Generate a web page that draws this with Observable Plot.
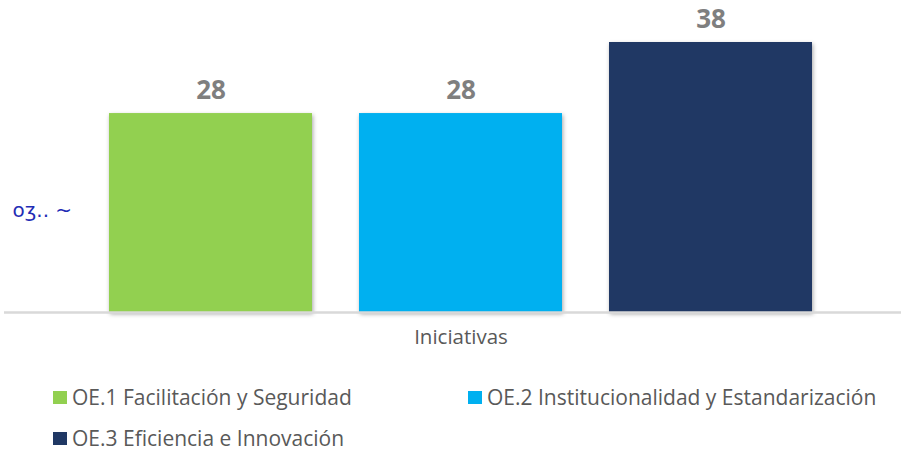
<!DOCTYPE html>
<html>
<head>
<meta charset="utf-8">
<script src="https://cdn.jsdelivr.net/npm/d3@7"></script>
<script src="https://cdn.jsdelivr.net/npm/@observablehq/plot@0.6"></script>
<style>
  body { margin: 0; background: #fff; font-family: "Open Sans", sans-serif; }
  #wrap { position: relative; width: 901px; height: 451px; overflow: hidden; }
  #legend { position: relative; height: 91px; }
  .item { position: absolute; display: flex; align-items: center; font-size: 21px; line-height: 20px; height: 20px; color: #595959; white-space: nowrap; }
  .sw { width: 14px; height: 13px; margin-right: 5px; }
</style>
</head>
<body>
<div id="wrap">
  <div id="chart"></div>
  <div id="legend"></div>
</div>
<script>
const series = ["OE.1 Facilitación y Seguridad", "OE.2 Institucionalidad y Estandarización", "OE.3 Eficiencia e Innovación"];
const values = [28, 28, 38];
const colors = ["#92D050", "#00B0F0", "#203864"];
const category = "Iniciativas";
const note = "oʒ.. ~";

const data = series.map((s, i) => ({series: s, value: values[i]}));

const chart = Plot.plot({
  width: 901,
  height: 360,
  marginTop: 0,
  marginBottom: 48,
  marginLeft: 4,
  marginRight: 0,
  x: {domain: series, range: [60, 860], padding: 0.19, axis: null},
  y: {domain: [0, 38], range: [312, 42], axis: null},
  color: {domain: series, range: colors},
  marks: [
    Plot.barY(data, {x: "series", y: "value", fill: "series"}),
    Plot.ruleY([0], {stroke: "#d9d9d9", strokeWidth: 2.5}),
    Plot.text(data, {x: "series", y: "value", text: d => String(d.value), dy: -23,
      fill: "#7f7f7f", fontSize: 26, fontWeight: "bold", fontFamily: "'Open Sans', sans-serif"}),
    Plot.text([category], {frameAnchor: "bottom", text: d => d, dy: 31, dx: 8,
      fill: "#595959", fontSize: 20.5, fontFamily: "'Open Sans', sans-serif"}),
    Plot.text([note], {frameAnchor: "left", text: d => d, dx: 8, dy: 54, textAnchor: "start",
      fill: "#1f2db5", fontSize: 20, fontFamily: "'DejaVu Sans', sans-serif"})
  ]
});
chart.querySelectorAll('g[aria-label="bar"] rect').forEach(r => {
  r.style.filter = "drop-shadow(1px 2px 2px rgba(0,0,0,0.35))";
});
document.getElementById("chart").appendChild(chart);

const pos = [{left: 53, top: 37}, {left: 468, top: 37}, {left: 53, top: 78}];
const legend = document.getElementById("legend");
series.forEach((s, i) => {
  const it = document.createElement("div");
  it.className = "item";
  it.style.left = pos[i].left + "px";
  it.style.top = (pos[i].top - 10) + "px";
  const sw = document.createElement("span");
  sw.className = "sw";
  sw.style.background = colors[i];
  const tx = document.createElement("span");
  tx.textContent = s;
  it.appendChild(sw);
  it.appendChild(tx);
  legend.appendChild(it);
});
</script>
</body>
</html>
